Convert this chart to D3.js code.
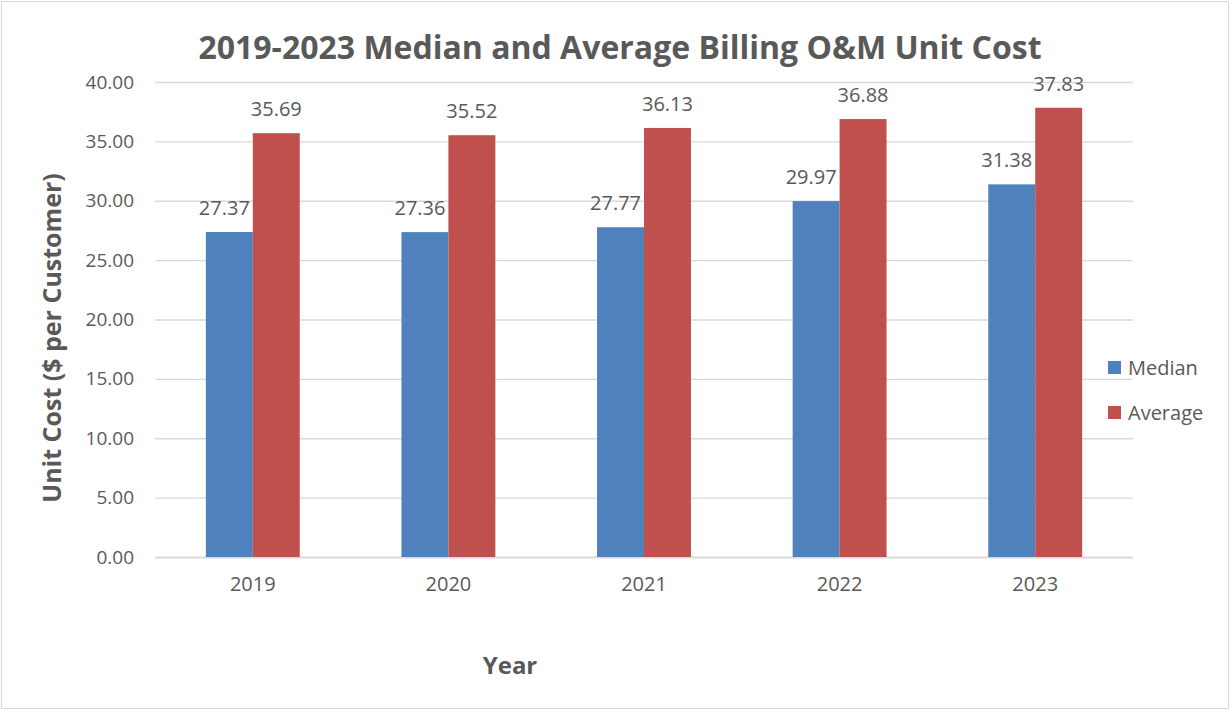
<!DOCTYPE html>
<html>
<head>
<meta charset="utf-8">
<script src="https://cdn.jsdelivr.net/npm/d3@7"></script>
<style>
  body { margin: 0; background: #fff; }
  text { font-family: "Open Sans", "Noto Sans", sans-serif; fill: #595959; }
</style>
</head>
<body>
<div id="chart"></div>
<script>
var years = ["2019", "2020", "2021", "2022", "2023"];
var seriesNames = ["Median", "Average"];
var medianValues = [27.37, 27.36, 27.77, 29.97, 31.38];
var averageValues = [35.69, 35.52, 36.13, 36.88, 37.83];
var yTicks = [0, 5, 10, 15, 20, 25, 30, 35, 40];
var colors = ["#4F81BD", "#C0504D"];

function drawChart() {
    var width = 1231, height = 711;
    var margin = {top: 82, right: 98, bottom: 154, left: 155};

    var svg = d3.select("#chart")
        .append("svg")
        .attr("width", width)
        .attr("height", height);

    // outer chart border
    svg.append("rect")
        .attr("x", 1.5).attr("y", 1.5)
        .attr("width", width - 4).attr("height", height - 4)
        .attr("fill", "#fff")
        .attr("stroke", "#d9d9d9");

    var x0 = d3.scaleBand()
        .domain(years)
        .range([margin.left, width - margin.right])
        .paddingInner(0.52)
        .paddingOuter(0.26);

    var x1 = d3.scaleBand()
        .domain(seriesNames)
        .range([0, x0.bandwidth()]);

    var y = d3.scaleLinear()
        .domain([0, 40])
        .range([height - margin.bottom, margin.top]);

    // gridlines
    svg.append("g")
        .selectAll("line")
        .data(yTicks)
        .enter().append("line")
        .attr("x1", margin.left)
        .attr("x2", width - margin.right)
        .attr("y1", function(d) { return y(d) + 0.5; })
        .attr("y2", function(d) { return y(d) + 0.5; })
        .attr("stroke", "#d9d9d9")
        .attr("stroke-width", function(d) { return d == 0 ? 2 : 1.3; });

    // y axis labels
    var yAxis = d3.axisLeft(y)
        .tickValues(yTicks)
        .tickFormat(d3.format(".2f"))
        .tickSize(0)
        .tickPadding(21);
    var yg = svg.append("g")
        .attr("transform", "translate(" + margin.left + ",0)")
        .call(yAxis);
    yg.select(".domain").remove();
    yg.selectAll("text").style("font-size", "19px").attr("fill", "#595959");

    // x axis labels
    var xAxis = d3.axisBottom(x0).tickSize(0).tickPadding(20);
    var xg = svg.append("g")
        .attr("transform", "translate(0," + (height - margin.bottom) + ")")
        .call(xAxis);
    xg.select(".domain").remove();
    xg.selectAll("text").style("font-size", "20px").attr("fill", "#595959");

    var rows = years.map(function(yr, i) {
        return {year: yr, values: [
            {name: "Median", value: medianValues[i]},
            {name: "Average", value: averageValues[i]}
        ]};
    });

    var groups = svg.append("g")
        .selectAll("g")
        .data(rows)
        .enter().append("g")
        .attr("transform", function(d) { return "translate(" + x0(d.year) + ",0)"; });

    groups.selectAll("rect")
        .data(function(d) { return d.values; })
        .enter().append("rect")
        .attr("x", function(d) { return x1(d.name); })
        .attr("width", x1.bandwidth())
        .attr("y", function(d) { return y(d.value); })
        .attr("height", function(d) { return y(0) - y(d.value); })
        .attr("fill", function(d, i) { return colors[i]; });

    groups.selectAll(".label")
        .data(function(d) { return d.values; })
        .enter().append("text")
        .attr("class", "label")
        .attr("x", function(d, i) { return x1(d.name) + x1.bandwidth() / 2 - (i == 0 ? 5 : 0); })
        .attr("y", function(d) { return y(d.value) - 17; })
        .attr("text-anchor", "middle")
        .style("font-size", "20px")
        .attr("fill", "#404040")
        .text(function(d) { return d.value.toFixed(2); });

    // title
    svg.append("text")
        .attr("x", 620)
        .attr("y", 59)
        .attr("text-anchor", "middle")
        .style("font-size", "32px")
        .style("font-weight", "bold")
        .text("2019-2023 Median and Average Billing O&M Unit Cost");

    // axis titles
    svg.append("text")
        .attr("x", 510)
        .attr("y", 674)
        .attr("text-anchor", "middle")
        .style("font-size", "24px")
        .style("font-weight", "bold")
        .text("Year");

    svg.append("text")
        .attr("transform", "translate(61,338) rotate(-90)")
        .attr("text-anchor", "middle")
        .style("font-size", "25px")
        .style("font-weight", "bold")
        .text("Unit Cost ($ per Customer)");

    // legend
    var legend = svg.append("g")
        .selectAll("g")
        .data(seriesNames)
        .enter().append("g")
        .attr("transform", function(d, i) { return "translate(1108," + (361 + i * 45) + ")"; });
    legend.append("rect")
        .attr("width", 13).attr("height", 13)
        .attr("fill", function(d, i) { return colors[i]; });
    legend.append("text")
        .attr("x", 20)
        .attr("y", 14)
        .style("font-size", "20px")
        .text(function(d) { return d; });
}

drawChart();
</script>
</body>
</html>
